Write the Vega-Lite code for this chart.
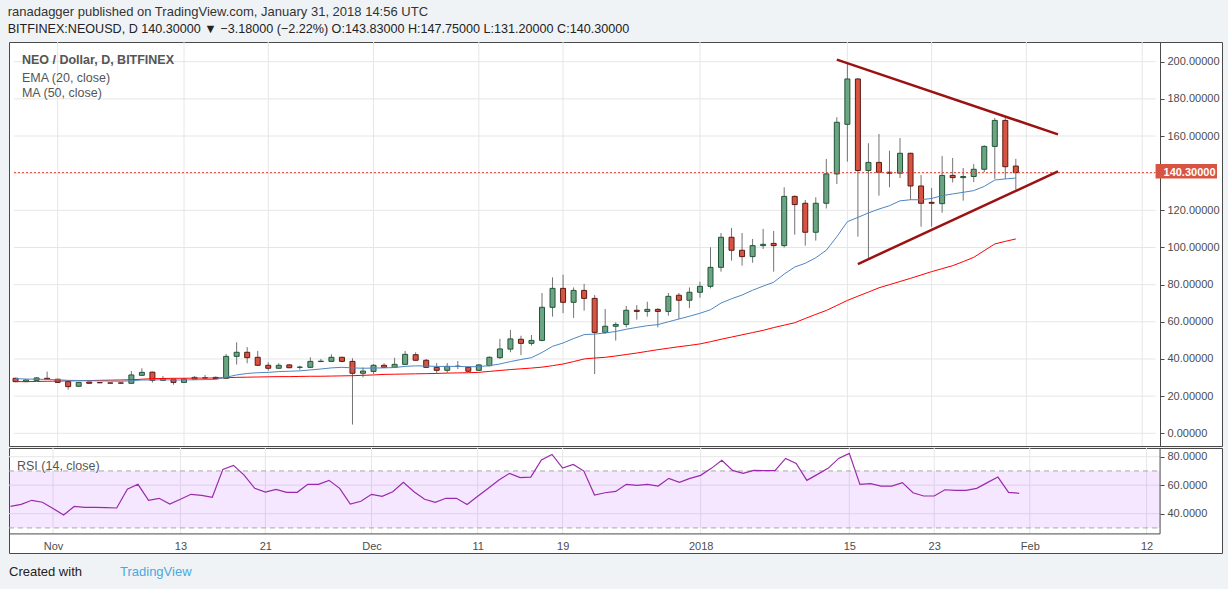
{
  "$schema": "https://vega.github.io/schema/vega-lite/v6.json",
  "background": "#f0f3f6",
  "padding": {"left": 7, "right": 8, "top": 6, "bottom": 11},
  "title": {
    "text": "ranadagger published on TradingView.com, January 31, 2018 14:56 UTC",
    "subtitle": "BITFINEX:NEOUSD, D  140.30000 ▼ −3.18000 (−2.22%) O:143.83000 H:147.75000 L:131.20000 C:140.30000",
    "anchor": "start",
    "frame": "bounds",
    "offset": 5,
    "font": "Liberation Sans, Arial, sans-serif",
    "fontSize": 13,
    "fontWeight": "normal",
    "color": "#333333",
    "lineHeight": 16,
    "subtitleFont": "Liberation Sans, Arial, sans-serif",
    "subtitleFontSize": 12.6,
    "subtitleFontWeight": "normal",
    "subtitleColor": "#222222",
    "subtitleLineHeight": 16,
    "subtitlePadding": 4
  },
  "datasets": {
    "nd": [
      {"t":"2017-10-28","o":29.6,"h":29.9,"l":27.5,"c":27.8,"ema":29.4,"ma":27.8,"rsi":45.1},
      {"t":"2017-10-29","o":27.8,"h":28.9,"l":27.6,"c":28.7,"ema":29.2,"ma":27.8,"rsi":46.5},
      {"t":"2017-10-30","o":28.5,"h":30.3,"l":28.3,"c":29.8,"ema":29.1,"ma":27.9,"rsi":49.4},
      {"t":"2017-10-31","o":29.6,"h":33.2,"l":28.9,"c":29.1,"ema":29.0,"ma":28.0,"rsi":48.0},
      {"t":"2017-11-01","o":29.1,"h":29.3,"l":27.2,"c":27.4,"ema":28.8,"ma":28.1,"rsi":43.7},
      {"t":"2017-11-02","o":27.8,"h":28.0,"l":23.5,"c":25.1,"ema":28.5,"ma":28.2,"rsi":39.1},
      {"t":"2017-11-03","o":25.3,"h":27.6,"l":25.1,"c":27.4,"ema":28.4,"ma":28.3,"rsi":45.1},
      {"t":"2017-11-04","o":27.6,"h":27.8,"l":26.8,"c":26.9,"ema":28.3,"ma":28.4,"rsi":44.4},
      {"t":"2017-11-05","o":27.3,"h":27.5,"l":27.0,"c":27.2,"ema":28.2,"ma":28.5,"rsi":44.4},
      {"t":"2017-11-06","o":27.1,"h":27.3,"l":26.9,"c":27.0,"ema":28.1,"ma":28.6,"rsi":44.2},
      {"t":"2017-11-07","o":27.1,"h":27.3,"l":26.8,"c":27.0,"ema":28.0,"ma":28.7,"rsi":44.0},
      {"t":"2017-11-08","o":26.9,"h":33.5,"l":26.7,"c":31.4,"ema":28.3,"ma":28.8,"rsi":57.1},
      {"t":"2017-11-09","o":31.2,"h":35.0,"l":31.0,"c":32.8,"ema":28.7,"ma":29.1,"rsi":60.6},
      {"t":"2017-11-10","o":32.9,"h":33.2,"l":27.3,"c":28.5,"ema":28.7,"ma":29.4,"rsi":49.4},
      {"t":"2017-11-11","o":28.5,"h":30.8,"l":28.3,"c":29.4,"ema":28.8,"ma":29.5,"rsi":50.8},
      {"t":"2017-11-12","o":29.1,"h":29.3,"l":26.2,"c":27.4,"ema":28.7,"ma":29.6,"rsi":46.8},
      {"t":"2017-11-13","o":27.4,"h":29.4,"l":27.2,"c":29.2,"ema":28.7,"ma":29.6,"rsi":50.1},
      {"t":"2017-11-14","o":29.1,"h":30.7,"l":28.9,"c":30.1,"ema":28.8,"ma":29.7,"rsi":53.6},
      {"t":"2017-11-15","o":29.8,"h":31.4,"l":29.2,"c":29.9,"ema":28.9,"ma":29.7,"rsi":52.9},
      {"t":"2017-11-16","o":30.1,"h":30.5,"l":29.2,"c":29.4,"ema":29.0,"ma":29.8,"rsi":51.5},
      {"t":"2017-11-17","o":29.6,"h":42.7,"l":29.4,"c":41.4,"ema":30.2,"ma":29.9,"rsi":71.1},
      {"t":"2017-11-18","o":41.4,"h":49.0,"l":37.0,"c":43.6,"ema":31.4,"ma":30.1,"rsi":73.9},
      {"t":"2017-11-19","o":43.6,"h":46.4,"l":37.7,"c":40.7,"ema":32.2,"ma":30.2,"rsi":67.1},
      {"t":"2017-11-20","o":40.9,"h":44.3,"l":36.4,"c":36.6,"ema":32.6,"ma":30.3,"rsi":57.8},
      {"t":"2017-11-21","o":36.6,"h":38.2,"l":33.7,"c":35.0,"ema":32.8,"ma":30.4,"rsi":55.2},
      {"t":"2017-11-22","o":35.0,"h":37.7,"l":34.8,"c":36.6,"ema":33.2,"ma":30.5,"rsi":57.1},
      {"t":"2017-11-23","o":36.8,"h":37.3,"l":35.0,"c":35.3,"ema":33.4,"ma":30.5,"rsi":55.0},
      {"t":"2017-11-24","o":35.5,"h":36.4,"l":34.2,"c":35.6,"ema":33.6,"ma":30.6,"rsi":55.0},
      {"t":"2017-11-25","o":35.5,"h":40.9,"l":35.3,"c":38.7,"ema":34.1,"ma":30.7,"rsi":60.6},
      {"t":"2017-11-26","o":38.6,"h":40.0,"l":38.5,"c":38.8,"ema":34.6,"ma":30.7,"rsi":60.6},
      {"t":"2017-11-27","o":38.7,"h":42.5,"l":38.5,"c":40.9,"ema":35.2,"ma":30.8,"rsi":63.4},
      {"t":"2017-11-28","o":40.9,"h":41.2,"l":38.2,"c":38.7,"ema":35.5,"ma":30.9,"rsi":57.8},
      {"t":"2017-11-29","o":38.7,"h":40.4,"l":4.7,"c":32.3,"ema":35.2,"ma":31.0,"rsi":46.8},
      {"t":"2017-11-30","o":32.3,"h":35.5,"l":30.1,"c":33.5,"ema":35.0,"ma":31.2,"rsi":48.7},
      {"t":"2017-12-01","o":33.3,"h":37.3,"l":31.9,"c":36.6,"ema":35.1,"ma":31.4,"rsi":53.6},
      {"t":"2017-12-02","o":36.6,"h":37.7,"l":35.3,"c":35.5,"ema":35.2,"ma":31.7,"rsi":52.2},
      {"t":"2017-12-03","o":35.5,"h":40.6,"l":35.3,"c":37.1,"ema":35.4,"ma":31.8,"rsi":55.4},
      {"t":"2017-12-04","o":37.1,"h":44.3,"l":36.8,"c":42.5,"ema":36.0,"ma":31.9,"rsi":62.0},
      {"t":"2017-12-05","o":42.3,"h":43.6,"l":39.0,"c":39.3,"ema":36.3,"ma":32.0,"rsi":55.4},
      {"t":"2017-12-06","o":39.3,"h":40.0,"l":35.2,"c":35.5,"ema":36.2,"ma":32.1,"rsi":50.1},
      {"t":"2017-12-07","o":35.5,"h":37.8,"l":32.3,"c":33.9,"ema":36.0,"ma":32.2,"rsi":48.0},
      {"t":"2017-12-08","o":33.9,"h":37.8,"l":32.5,"c":36.0,"ema":36.0,"ma":32.4,"rsi":50.8},
      {"t":"2017-12-09","o":36.0,"h":38.9,"l":34.6,"c":36.1,"ema":36.0,"ma":32.5,"rsi":50.8},
      {"t":"2017-12-10","o":35.5,"h":35.8,"l":33.0,"c":33.4,"ema":35.8,"ma":32.6,"rsi":46.5},
      {"t":"2017-12-11","o":33.9,"h":37.2,"l":33.5,"c":36.8,"ema":35.9,"ma":32.8,"rsi":52.2},
      {"t":"2017-12-12","o":36.4,"h":41.4,"l":36.0,"c":40.9,"ema":36.4,"ma":33.3,"rsi":57.8},
      {"t":"2017-12-13","o":40.7,"h":50.8,"l":40.0,"c":45.4,"ema":37.3,"ma":33.8,"rsi":63.6},
      {"t":"2017-12-14","o":45.3,"h":55.6,"l":43.6,"c":50.8,"ema":38.6,"ma":34.3,"rsi":68.3},
      {"t":"2017-12-15","o":50.6,"h":52.5,"l":42.1,"c":48.4,"ema":39.7,"ma":34.7,"rsi":65.3},
      {"t":"2017-12-16","o":48.4,"h":52.9,"l":47.2,"c":50.0,"ema":40.7,"ma":35.1,"rsi":65.7},
      {"t":"2017-12-17","o":50.0,"h":75.5,"l":49.5,"c":67.8,"ema":43.5,"ma":35.6,"rsi":77.7},
      {"t":"2017-12-18","o":67.8,"h":83.9,"l":62.8,"c":78.0,"ema":46.8,"ma":36.4,"rsi":81.6},
      {"t":"2017-12-19","o":78.0,"h":85.4,"l":64.7,"c":70.5,"ema":48.6,"ma":37.3,"rsi":72.0},
      {"t":"2017-12-20","o":70.5,"h":78.5,"l":62.1,"c":76.9,"ema":51.0,"ma":38.6,"rsi":74.6},
      {"t":"2017-12-21","o":76.9,"h":80.4,"l":66.0,"c":72.6,"ema":53.1,"ma":40.0,"rsi":69.9},
      {"t":"2017-12-22","o":72.6,"h":74.4,"l":31.9,"c":54.3,"ema":53.4,"ma":40.5,"rsi":53.1},
      {"t":"2017-12-23","o":54.3,"h":66.9,"l":53.5,"c":57.6,"ema":54.0,"ma":40.9,"rsi":54.7},
      {"t":"2017-12-24","o":57.6,"h":59.7,"l":49.9,"c":58.6,"ema":54.8,"ma":41.6,"rsi":55.6},
      {"t":"2017-12-25","o":58.6,"h":68.5,"l":57.0,"c":66.2,"ema":56.0,"ma":42.4,"rsi":60.6},
      {"t":"2017-12-26","o":66.2,"h":69.0,"l":61.2,"c":65.6,"ema":57.0,"ma":43.2,"rsi":59.9},
      {"t":"2017-12-27","o":65.6,"h":70.8,"l":62.8,"c":66.7,"ema":57.9,"ma":44.1,"rsi":60.6},
      {"t":"2017-12-28","o":66.7,"h":67.3,"l":57.0,"c":65.6,"ema":58.5,"ma":45.0,"rsi":59.4},
      {"t":"2017-12-29","o":65.6,"h":75.5,"l":63.3,"c":73.7,"ema":60.0,"ma":45.8,"rsi":64.8},
      {"t":"2017-12-30","o":74.3,"h":75.5,"l":61.5,"c":71.6,"ema":61.5,"ma":46.6,"rsi":62.0},
      {"t":"2017-12-31","o":71.6,"h":78.5,"l":67.4,"c":75.9,"ema":63.0,"ma":47.3,"rsi":64.8},
      {"t":"2018-01-01","o":75.9,"h":81.6,"l":73.0,"c":79.1,"ema":64.6,"ma":48.1,"rsi":66.9},
      {"t":"2018-01-02","o":79.1,"h":100.1,"l":78.0,"c":89.3,"ema":66.5,"ma":49.3,"rsi":71.8},
      {"t":"2018-01-03","o":89.3,"h":107.8,"l":87.0,"c":105.5,"ema":70.1,"ma":50.6,"rsi":77.4},
      {"t":"2018-01-04","o":105.5,"h":110.5,"l":92.9,"c":98.5,"ema":72.4,"ma":51.8,"rsi":70.4},
      {"t":"2018-01-05","o":98.5,"h":107.8,"l":90.2,"c":95.1,"ema":74.4,"ma":53.0,"rsi":68.3},
      {"t":"2018-01-06","o":95.1,"h":104.6,"l":91.8,"c":101.0,"ema":77.0,"ma":54.2,"rsi":70.4},
      {"t":"2018-01-07","o":101.0,"h":110.0,"l":99.2,"c":101.7,"ema":79.2,"ma":55.4,"rsi":70.2},
      {"t":"2018-01-08","o":102.2,"h":108.9,"l":87.0,"c":101.0,"ema":81.3,"ma":56.9,"rsi":70.2},
      {"t":"2018-01-09","o":101.0,"h":132.4,"l":100.0,"c":127.5,"ema":85.7,"ma":58.2,"rsi":78.8},
      {"t":"2018-01-10","o":127.5,"h":128.0,"l":106.9,"c":123.1,"ema":89.5,"ma":59.5,"rsi":75.3},
      {"t":"2018-01-11","o":123.8,"h":125.6,"l":101.0,"c":108.2,"ema":91.5,"ma":61.8,"rsi":63.4},
      {"t":"2018-01-12","o":108.2,"h":127.0,"l":103.7,"c":123.8,"ema":94.5,"ma":64.0,"rsi":67.6},
      {"t":"2018-01-13","o":123.8,"h":147.6,"l":121.0,"c":139.6,"ema":98.5,"ma":66.1,"rsi":71.8},
      {"t":"2018-01-14","o":139.6,"h":170.1,"l":134.2,"c":167.4,"ema":105.8,"ma":68.8,"rsi":78.8},
      {"t":"2018-01-15","o":166.3,"h":199.7,"l":146.2,"c":190.7,"ema":113.9,"ma":71.5,"rsi":82.3},
      {"t":"2018-01-16","o":190.7,"h":191.1,"l":105.8,"c":141.4,"ema":116.2,"ma":73.8,"rsi":60.6},
      {"t":"2018-01-17","o":141.4,"h":156.1,"l":93.8,"c":145.8,"ema":118.6,"ma":76.0,"rsi":61.1},
      {"t":"2018-01-18","o":145.8,"h":161.1,"l":127.9,"c":140.5,"ema":120.7,"ma":78.3,"rsi":59.4},
      {"t":"2018-01-19","o":140.5,"h":152.1,"l":132.4,"c":140.0,"ema":122.5,"ma":80.0,"rsi":59.4},
      {"t":"2018-01-20","o":140.0,"h":158.9,"l":137.4,"c":150.7,"ema":125.1,"ma":81.7,"rsi":61.8},
      {"t":"2018-01-21","o":150.7,"h":151.0,"l":125.6,"c":133.1,"ema":125.7,"ma":83.4,"rsi":54.7},
      {"t":"2018-01-22","o":133.1,"h":139.0,"l":111.2,"c":123.8,"ema":125.7,"ma":85.2,"rsi":52.4},
      {"t":"2018-01-23","o":124.3,"h":132.0,"l":111.2,"c":123.8,"ema":126.4,"ma":87.0,"rsi":52.4},
      {"t":"2018-01-24","o":123.6,"h":149.2,"l":118.7,"c":138.8,"ema":127.9,"ma":88.6,"rsi":56.8},
      {"t":"2018-01-25","o":138.8,"h":148.2,"l":135.0,"c":137.6,"ema":128.8,"ma":90.2,"rsi":56.4},
      {"t":"2018-01-26","o":137.6,"h":142.8,"l":125.2,"c":138.2,"ema":129.7,"ma":92.4,"rsi":56.4},
      {"t":"2018-01-27","o":138.2,"h":144.9,"l":135.2,"c":142.1,"ema":130.6,"ma":94.7,"rsi":57.8},
      {"t":"2018-01-28","o":142.1,"h":155.0,"l":140.5,"c":154.4,"ema":132.9,"ma":98.3,"rsi":61.8},
      {"t":"2018-01-29","o":154.4,"h":169.7,"l":136.9,"c":168.4,"ema":136.3,"ma":101.9,"rsi":65.7},
      {"t":"2018-01-30","o":168.4,"h":170.1,"l":136.9,"c":143.48,"ema":136.9,"ma":103.3,"rsi":55.0},
      {"t":"2018-01-31","o":143.83,"h":147.75,"l":131.2,"c":140.3,"ema":137.4,"ma":104.6,"rsi":54.3}
    ]
  },
  "spacing": 0,
  "vconcat": [
    {
      "width": 1213,
      "height": 404,
      "layer": [
        {
          "data": {"values": [{"t":"2017-11-01"},{"t":"2017-11-13"},{"t":"2017-11-21"},{"t":"2017-12-01"},{"t":"2017-12-11"},{"t":"2017-12-19"},{"t":"2018-01-01"},{"t":"2018-01-15"},{"t":"2018-01-23"},{"t":"2018-02-01"},{"t":"2018-02-12"}]},
          "mark": {"type": "rule", "color": "#e6e6e6", "strokeWidth": 1},
          "encoding": {
            "x": {"field": "t", "type": "temporal", "axis": null, "scale": {"type": "utc", "domain": [1509136200000, 1519007400000]}}
          }
        },
        {
          "data": {"values": [{"v":0},{"v":20},{"v":40},{"v":60},{"v":80},{"v":100},{"v":120},{"v":140},{"v":160},{"v":180},{"v":200}]},
          "mark": {"type": "rule", "color": "#e6e6e6", "strokeWidth": 1},
          "encoding": {
            "y": {"field": "v", "type": "quantitative", "title": null},
            "x": {"datum": 1509136200000, "type": "temporal", "axis": null},
            "x2": {"datum": 1518503400000}
          }
        },
        {
          "data": {"name": "nd"},
          "mark": {"type": "rule", "color": "#737375", "strokeWidth": 1, "clip": true},
          "encoding": {
            "x": {"field": "t", "type": "temporal", "axis": null},
            "y": {"field": "l", "type": "quantitative", "title": null,
                  "scale": {"domain": [-6.84, 210.6], "nice": false, "zero": false},
                  "axis": {"orient": "right", "offset": -62, "title": null, "values": [0,20,40,60,80,100,120,160,180,200],
                           "format": ".5f", "grid": false, "domain": true, "domainColor": "#4a4a4a",
                           "ticks": true, "tickSize": 4, "tickColor": "#4a4a4a", "labelPadding": 3,
                           "labelFont": "Liberation Sans, Arial, sans-serif", "labelFontSize": 11, "labelColor": "#4d4d4d"}},
            "y2": {"field": "h"}
          }
        },
        {
          "data": {"name": "nd"},
          "mark": {"type": "bar", "width": 5, "strokeWidth": 1, "clip": true},
          "encoding": {
            "x": {"field": "t", "type": "temporal", "axis": null},
            "y": {"field": "o", "type": "quantitative", "title": null},
            "y2": {"field": "c"},
            "fill": {"condition": {"test": "datum.c >= datum.o", "value": "#6ba583"}, "value": "#d75442"},
            "stroke": {"condition": {"test": "datum.c >= datum.o", "value": "#225437"}, "value": "#5b1a13"}
          }
        },
        {
          "data": {"name": "nd"},
          "mark": {"type": "line", "color": "#ff0000", "strokeWidth": 1},
          "encoding": {
            "x": {"field": "t", "type": "temporal", "axis": null},
            "y": {"field": "ma", "type": "quantitative", "title": null}
          }
        },
        {
          "data": {"name": "nd"},
          "mark": {"type": "line", "color": "#4f86c0", "strokeWidth": 1},
          "encoding": {
            "x": {"field": "t", "type": "temporal", "axis": null},
            "y": {"field": "ema", "type": "quantitative", "title": null}
          }
        },
        {
          "data": {"values": [{"p": 140.3}]},
          "mark": {"type": "rule", "color": "#e0463a", "strokeWidth": 1, "strokeDash": [2, 2]},
          "encoding": {
            "y": {"field": "p", "type": "quantitative", "title": null},
            "x": {"datum": 1509136200000, "type": "temporal", "axis": null},
            "x2": {"datum": 1518503400000}
          }
        },
        {
          "data": {"values": [
            {"line":"top","t":"2018-01-14","p":201.1},
            {"line":"top","t":"2018-02-04","p":160.9},
            {"line":"bottom","t":"2018-01-16","p":91.1},
            {"line":"bottom","t":"2018-02-04","p":141.0}]},
          "mark": {"type": "line", "color": "#9b1212", "strokeWidth": 2.5},
          "encoding": {
            "x": {"field": "t", "type": "temporal", "axis": null},
            "y": {"field": "p", "type": "quantitative", "title": null},
            "detail": {"field": "line"}
          }
        },
        {
          "data": {"values": [{"lo": 137.2, "hi": 144.9}]},
          "mark": {"type": "rect", "color": "#d75442"},
          "encoding": {
            "x": {"datum": 1518503400000, "type": "temporal", "axis": null},
            "x2": {"datum": 1519007400000},
            "y": {"field": "lo", "type": "quantitative", "title": null},
            "y2": {"field": "hi"}
          }
        },
        {
          "data": {"values": [{"p": 140.3, "label": "140.30000"}]},
          "mark": {"type": "text", "color": "#ffffff", "fontWeight": "bold", "font": "Liberation Sans, Arial, sans-serif", "fontSize": 11, "align": "left", "baseline": "middle"},
          "encoding": {
            "x": {"datum": 1518568500000, "type": "temporal", "axis": null},
            "y": {"field": "p", "type": "quantitative", "title": null},
            "text": {"field": "label"}
          }
        },
        {
          "data": {"values": [{"label": "NEO / Dollar, D, BITFINEX", "p": 200.9}]},
          "mark": {"type": "text", "color": "#555555", "fontWeight": "bold", "font": "Liberation Sans, Arial, sans-serif", "fontSize": 12.5, "align": "left", "baseline": "middle"},
          "encoding": {
            "x": {"datum": 1509201360000, "type": "temporal", "axis": null},
            "y": {"field": "p", "type": "quantitative", "title": null},
            "text": {"field": "label"}
          }
        },
        {
          "data": {"values": [{"label": "EMA (20, close)", "p": 191.2}]},
          "mark": {"type": "text", "color": "#555555", "font": "Liberation Sans, Arial, sans-serif", "fontSize": 12.5, "align": "left", "baseline": "middle"},
          "encoding": {
            "x": {"datum": 1509201360000, "type": "temporal", "axis": null},
            "y": {"field": "p", "type": "quantitative", "title": null},
            "text": {"field": "label"}
          }
        },
        {
          "data": {"values": [{"label": "MA (50, close)", "p": 182.9}]},
          "mark": {"type": "text", "color": "#555555", "font": "Liberation Sans, Arial, sans-serif", "fontSize": 12.5, "align": "left", "baseline": "middle"},
          "encoding": {
            "x": {"datum": 1509201360000, "type": "temporal", "axis": null},
            "y": {"field": "p", "type": "quantitative", "title": null},
            "text": {"field": "label"}
          }
        }
      ]
    },
    {
      "width": 1213,
      "height": 105,
      "layer": [
        {
          "data": {"values": [{"t":"2017-11-01"},{"t":"2017-11-13"},{"t":"2017-11-21"},{"t":"2017-12-01"},{"t":"2017-12-11"},{"t":"2017-12-19"},{"t":"2018-01-01"},{"t":"2018-01-15"},{"t":"2018-01-23"},{"t":"2018-02-01"},{"t":"2018-02-12"}]},
          "mark": {"type": "rule", "color": "#e6e6e6", "strokeWidth": 1},
          "encoding": {
            "x": {"field": "t", "type": "temporal", "title": null, "scale": {"type": "utc", "domain": [1509136200000, 1519007400000]},
                  "axis": {"orient": "bottom", "offset": -19, "title": null, "grid": false, "domain": false, "ticks": false, "tickSize": 0,
                           "labelPadding": 6, "labelFont": "Liberation Sans, Arial, sans-serif", "labelFontSize": 11, "labelColor": "#4d4d4d",
                           "values": [
                             {"year": 2017, "month": 11, "date": 1, "utc": true},
                             {"year": 2017, "month": 11, "date": 13, "utc": true},
                             {"year": 2017, "month": 11, "date": 21, "utc": true},
                             {"year": 2017, "month": 12, "date": 1, "utc": true},
                             {"year": 2017, "month": 12, "date": 11, "utc": true},
                             {"year": 2017, "month": 12, "date": 19, "utc": true},
                             {"year": 2018, "month": 1, "date": 1, "utc": true},
                             {"year": 2018, "month": 1, "date": 15, "utc": true},
                             {"year": 2018, "month": 1, "date": 23, "utc": true},
                             {"year": 2018, "month": 2, "date": 1, "utc": true},
                             {"year": 2018, "month": 2, "date": 12, "utc": true}],
                           "labelExpr": "utcdate(datum.value) == 1 ? (utcmonth(datum.value) == 0 ? '2018' : utcFormat(datum.value, '%b')) : utcFormat(datum.value, '%d')"}},
            "y": {"datum": 25.8, "type": "quantitative", "title": null},
            "y2": {"datum": 86.1}
          }
        },
        {
          "data": {"values": [{"v":40},{"v":60},{"v":80}]},
          "mark": {"type": "rule", "color": "#e6e6e6", "strokeWidth": 1},
          "encoding": {
            "y": {"field": "v", "type": "quantitative", "title": null},
            "x": {"datum": 1509136200000, "type": "temporal", "title": null},
            "x2": {"datum": 1518503400000}
          }
        },
        {
          "data": {"values": [{"lo": 30, "hi": 70}]},
          "mark": {"type": "rect", "color": "#9915ff", "opacity": 0.1},
          "encoding": {
            "x": {"datum": 1509136200000, "type": "temporal", "title": null},
            "x2": {"datum": 1518503400000},
            "y": {"field": "lo", "type": "quantitative", "title": null},
            "y2": {"field": "hi"}
          }
        },
        {
          "data": {"values": [{"v":30},{"v":70}]},
          "mark": {"type": "rule", "color": "#a8a8a8", "strokeWidth": 1, "strokeDash": [5, 4]},
          "encoding": {
            "y": {"field": "v", "type": "quantitative", "title": null},
            "x": {"datum": 1509136200000, "type": "temporal", "title": null},
            "x2": {"datum": 1518503400000}
          }
        },
        {
          "data": {"name": "nd"},
          "mark": {"type": "line", "color": "#9a2aab", "strokeWidth": 1.2},
          "encoding": {
            "x": {"field": "t", "type": "temporal", "title": null},
            "y": {"field": "rsi", "type": "quantitative", "title": null,
                  "scale": {"domain": [12.4, 86.1], "nice": false, "zero": false},
                  "axis": {"orient": "right", "offset": -62, "title": null, "values": [40, 60, 80], "format": ".4f",
                           "grid": false, "domain": false, "ticks": true, "tickSize": 4, "tickColor": "#4a4a4a", "labelPadding": 3,
                           "labelFont": "Liberation Sans, Arial, sans-serif", "labelFontSize": 11, "labelColor": "#4d4d4d"}}
          }
        },
        {
          "data": {"values": [{"v": 25.8}]},
          "mark": {"type": "rule", "color": "#4a4a4a", "strokeWidth": 1},
          "encoding": {
            "y": {"field": "v", "type": "quantitative", "title": null},
            "x": {"datum": 1509136200000, "type": "temporal", "title": null},
            "x2": {"datum": 1518503400000}
          }
        },
        {
          "data": {"values": [{"lo": 25.8, "hi": 86.1}]},
          "mark": {"type": "rule", "color": "#4a4a4a", "strokeWidth": 1},
          "encoding": {
            "x": {"datum": 1518503400000, "type": "temporal", "title": null},
            "y": {"field": "lo", "type": "quantitative", "title": null},
            "y2": {"field": "hi"}
          }
        },
        {
          "data": {"values": [{"label": "RSI (14, close)", "v": 73.8}]},
          "mark": {"type": "text", "color": "#555555", "font": "Liberation Sans, Arial, sans-serif", "fontSize": 12.5, "align": "left", "baseline": "middle"},
          "encoding": {
            "x": {"datum": 1509201360000, "type": "temporal", "title": null},
            "y": {"field": "v", "type": "quantitative", "title": null},
            "text": {"field": "label"}
          }
        },
        {
          "data": {"values": [{"label": "Created with", "v": -0.9}]},
          "mark": {"type": "text", "color": "#222222", "font": "Liberation Sans, Arial, sans-serif", "fontSize": 13, "align": "left", "baseline": "middle"},
          "encoding": {
            "x": {"datum": 1509136200000, "type": "temporal", "title": null},
            "y": {"field": "v", "type": "quantitative", "title": null},
            "text": {"field": "label"}
          }
        },
        {
          "data": {"values": [{"label": "TradingView", "v": -0.9}]},
          "mark": {"type": "text", "color": "#4aa8e0", "font": "Liberation Sans, Arial, sans-serif", "fontSize": 13, "align": "left", "baseline": "middle"},
          "encoding": {
            "x": {"datum": 1510039440000, "type": "temporal", "title": null},
            "y": {"field": "v", "type": "quantitative", "title": null},
            "text": {"field": "label"}
          }
        }
      ]
    }
  ],
  "config": {
    "view": {"stroke": "#4a4a4a", "strokeWidth": 1, "fill": "#ffffff"},
    "axis": {"grid": false}
  }
}
